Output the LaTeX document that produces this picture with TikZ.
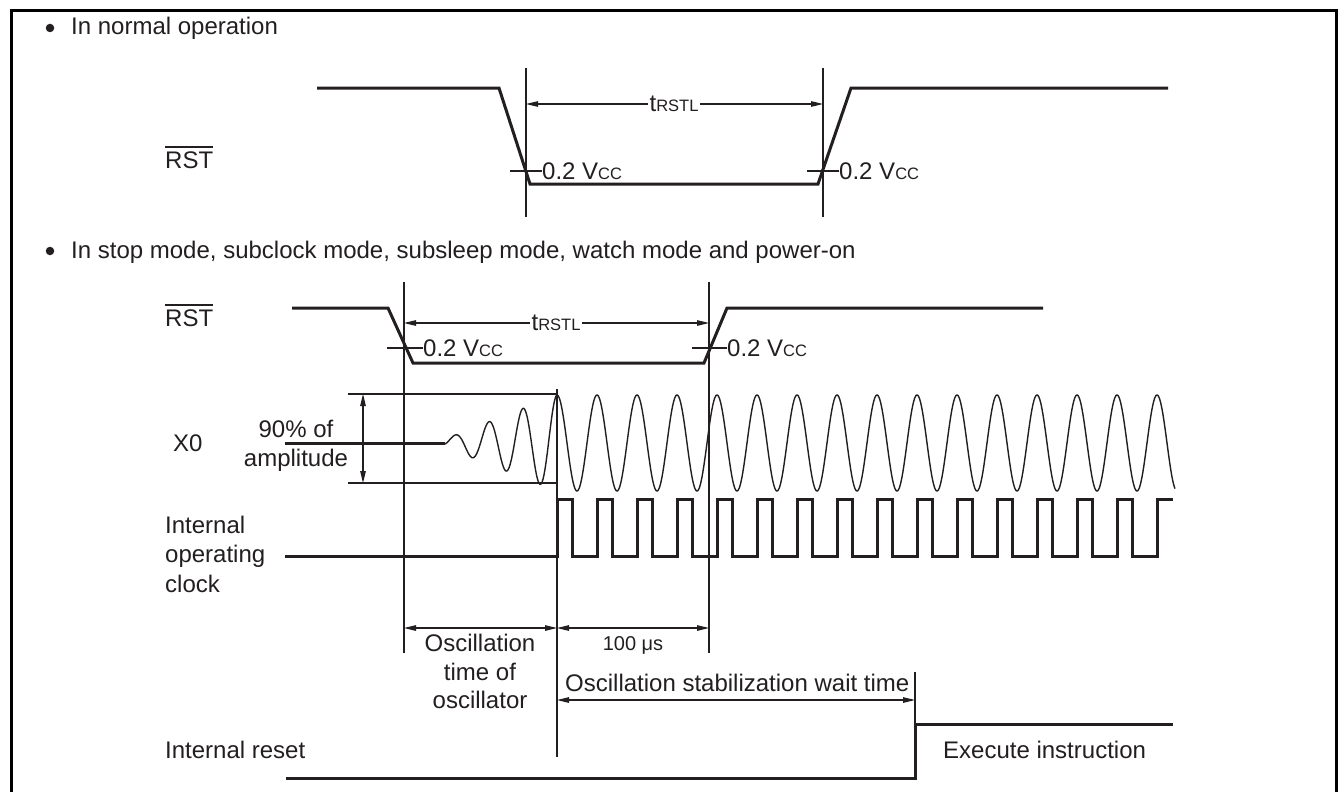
\documentclass[tikz,border=0pt]{standalone}
\usepackage{fontspec}
\setmainfont{Liberation Sans}
\usetikzlibrary{arrows.meta}
\definecolor{ink}{HTML}{231F20}
\newcommand{\smcc}[1]{{\fontsize{16.5}{16.5}\selectfont #1}}
\begin{document}
\begin{tikzpicture}[x=1pt,y=-1pt,
  every node/.style={inner sep=0pt, text=ink, font=\fontsize{24}{28}\selectfont},
  wave/.style={line width=3pt, draw=ink},
  fineline/.style={line width=1.2pt, draw=ink},
  sinus/.style={line width=1.4pt, draw=ink},
  dimarrow/.style={fineline, {Triangle[length=12pt,width=5.5pt]}-{Triangle[length=12pt,width=5.5pt]}},
  lab/.style={anchor=base west},
  gaplabel/.style={fill=white, inner xsep=2pt, inner ysep=1pt, anchor=base},
  bulletdot/.style={circle, fill=ink, minimum size=8.5pt, inner sep=0pt},
]
\useasboundingbox (0,0) rectangle (1338,792);
\fill[white] (0,0) rectangle (1338,792);
\draw[line width=3pt, draw=black] (11,792) -- (11,11) -- (1336,11) -- (1336,792);

% ---------------- section 1 ----------------
\node[bulletdot] (b1) at (50,28) {};
\node[lab] (h1) at (71,35) {In normal operation};
\node[lab] (rst1) at (165,168) {RST};
\draw[fineline] ([yshift=4pt]rst1.north west) -- ([yshift=4pt]rst1.north east);

\draw[wave] (317,88) -- (499,88) -- (530,184) -- (818,184) -- (851,88) -- (1168,88);
\coordinate (v1t) at (526,68); \coordinate (v1b) at (526,217);
\coordinate (v2t) at (823,68); \coordinate (v2b) at (823,217);
\draw[fineline] (v1t) -- (v1b);
\draw[fineline] (v2t) -- (v2b);
\coordinate (t1l) at (526,104); \coordinate (t1r) at (823,104);
\draw[dimarrow] (t1l) -- (t1r);
\node[gaplabel] (t1) at (674,111) {t\smcc{RSTL}};
\coordinate (k1a) at (510,171); \coordinate (k1b) at (542,171);
\draw[fineline] (k1a) -- (k1b);
\node[lab] (vcc1) at (542,179) {0.2 V\smcc{CC}};
\coordinate (k2a) at (807,171); \coordinate (k2b) at (839,171);
\draw[fineline] (k2a) -- (k2b);
\node[lab] (vcc2) at (839,179) {0.2 V\smcc{CC}};

% ---------------- section 2 ----------------
\node[bulletdot] (b2) at (50,251) {};
\node[lab] (h2) at (71,258) {In stop mode, subclock mode, subsleep mode, watch mode and power-on};
\node[lab] (rst2) at (165,326) {RST};
\draw[fineline] ([yshift=4pt]rst2.north west) -- ([yshift=4pt]rst2.north east);

\draw[wave] (292,308) -- (388,308) -- (413,363) -- (704,363) -- (727,308) -- (1043,308);
\coordinate (v3t) at (404,282); \coordinate (v3b) at (404,653);
\coordinate (v4t) at (709,282); \coordinate (v4b) at (709,653);
\draw[fineline] (v3t) -- (v3b);
\draw[fineline] (v4t) -- (v4b);
\coordinate (t2l) at (404,323); \coordinate (t2r) at (709,323);
\draw[dimarrow] (t2l) -- (t2r);
\node[gaplabel] (t2) at (556,330) {t\smcc{RSTL}};
\coordinate (k3a) at (387,348); \coordinate (k3b) at (423,348);
\draw[fineline] (k3a) -- (k3b);
\node[lab] (vcc3) at (423,356) {0.2 V\smcc{CC}};
\coordinate (k4a) at (692,348); \coordinate (k4b) at (727,348);
\draw[fineline] (k4a) -- (k4b);
\node[lab] (vcc4) at (727,356) {0.2 V\smcc{CC}};

% X0
\node[lab] (x0) at (173,451) {X0};
\node[anchor=base] (p90) at (296,437) {90\% of};
\node[anchor=base] (amp) at (296,466) {amplitude};
\coordinate (at1) at (348,394); \coordinate (at2) at (557,394);
\coordinate (ab1) at (348,483); \coordinate (ab2) at (557,483);
\draw[fineline] (at1) -- (at2);
\draw[fineline] (ab1) -- (ab2);
\coordinate (aa1) at (363,394); \coordinate (aa2) at (363,483);
\draw[dimarrow] (aa1) -- (aa2);
\draw[wave] (285,443) -- (445,443);
\draw[sinus] plot[domain=445:557, samples=220] (\x,{443-(4+0.39286*(\x-445))*cos(10.5882*(\x-557))})
  -- plot[domain=557:1175, samples=900] (\x,{443-48*cos(9*(\x-557))});
\coordinate (v5t) at (557,389); \coordinate (v5b) at (557,757);
\draw[fineline] (v5t) -- (v5b);

% internal operating clock
\node[lab] (ic1) at (165,533) {Internal};
\node[lab] (ic2) at (165,562) {operating};
\node[lab] (ic3) at (165,592) {clock};
\draw[wave] (285,556) -- (557,556)
  foreach \k in {0,...,14} { -- ({557+40*\k},499) -- ({572+40*\k},499) -- ({572+40*\k},556) -- ({597+40*\k},556) }
  -- (1157,499) -- (1173,499);

% bottom dimensions
\coordinate (d1) at (404,628); \coordinate (d2) at (557,628); \coordinate (d3) at (709,628);
\draw[dimarrow] (d1) -- (d2);
\draw[dimarrow] (d2) -- (d3);
\node[anchor=base] (o1) at (480,651) {Oscillation};
\node[anchor=base] (o2) at (480,680) {time of};
\node[anchor=base] (o3) at (480,708) {oscillator};
\node[anchor=base, font=\fontsize{20}{24}\selectfont] (us) at (633,650) {100 μs};
\node[lab] (stab) at (565,691) {Oscillation stabilization wait time};
\coordinate (s1) at (557,700); \coordinate (s2) at (915,700);
\draw[dimarrow] (s1) -- (s2);

% internal reset
\node[lab] (ir) at (165,758) {Internal reset};
\draw[wave] (286,778) -- (915,778) -- (915,724) -- (1173,724);
\coordinate (st1) at (915,724); \coordinate (st2) at (915,672);
\draw[fineline] (st1) -- (st2);
\node[lab] (ex) at (943,758) {Execute instruction};
\end{tikzpicture}
\end{document}
